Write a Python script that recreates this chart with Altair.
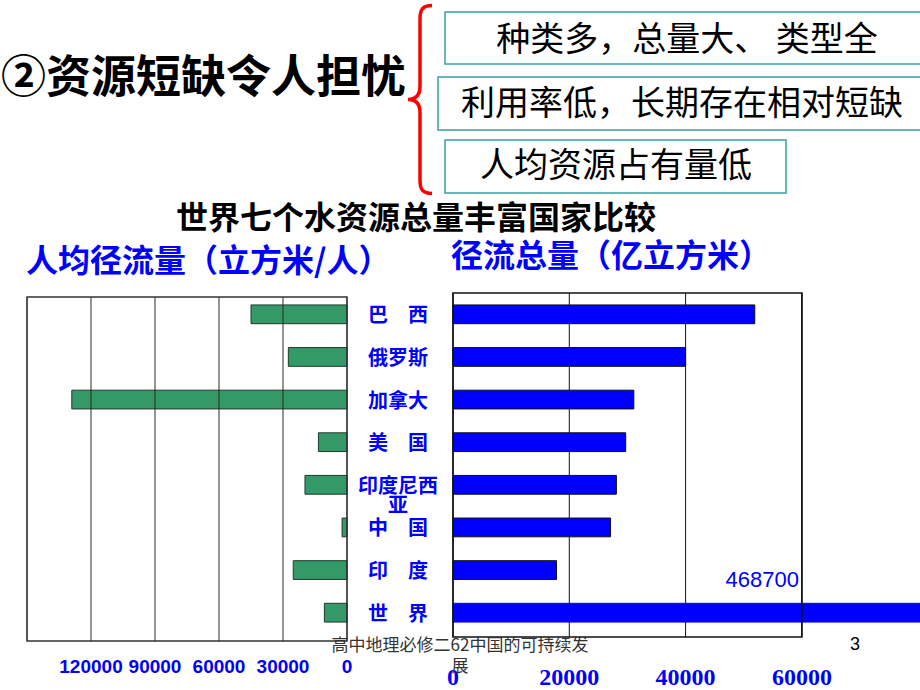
import altair as alt
import pandas as pd

# ---------------- data ----------------
countries = ["巴西", "俄罗斯", "加拿大", "美国", "印度尼西亚", "中国", "印度", "世界"]
country_labels = ["巴\u3000西", "俄罗斯", "加拿大", "美\u3000国", "印度尼西\n亚",
                  "中\u3000国", "印\u3000度", "世\u3000界"]
per_capita = [45000, 27500, 129000, 13400, 19700, 2300, 25200, 10600]      # 立方米/人
total_runoff = [51900, 40000, 31100, 29700, 28100, 27100, 17800, 468700]   # 亿立方米
left_ticks = [0, 30000, 60000, 90000, 120000, 150000]
left_tick_values = [0, 30000, 60000, 90000, 120000]
left_tick_labels = ["0", "30000", "60000", "90000", "120000"]
right_ticks = [0, 20000, 40000, 60000]
right_tick_labels = ["0", "20000", "40000", "60000"]

heading = "②资源短缺令人担忧"
points = ["种类多，总量大、 类型全", "利用率低，长期存在相对短缺", "人均资源占有量低"]
chart_title = "世界七个水资源总量丰富国家比较"
left_subtitle = "人均径流量（立方米/人）"
right_subtitle = "径流总量（亿立方米）"
footer = "高中地理必修二62中国的可持续发\n展"
page_no = "3"

df = pd.DataFrame({"country": countries, "label": country_labels,
                   "per_capita": per_capita, "total": total_runoff})

CJK = "Noto Sans CJK SC"
BLUE = "#0000FF"

y_enc = alt.Y("country:N", sort=countries,
              scale=alt.Scale(domain=countries, range=[293, 634],
                              paddingInner=0.56, paddingOuter=0.28),
              axis=None)

def one(s):
    return alt.Chart(pd.DataFrame({"t": [s]}))

def txt(s, x, y, size, color="black", weight="normal", font=CJK,
        align="center", baseline="middle", **kw):
    return one(s).mark_text(fontSize=size, color=color, fontWeight=weight, font=font,
                            align=align, baseline=baseline, **kw).encode(
        text="t:N", x=alt.value(x), y=alt.value(y))

def box(x1, x2, y1, y2):
    return one("").mark_rect(fill="white", stroke="#3A9FA8", strokeWidth=1.5).encode(
        x=alt.value(x1), x2=alt.value(x2), y=alt.value(y1), y2=alt.value(y2))

# ---------------- header ----------------
brace_path = ("M0.128,-1 C0.03,-1 0,-0.96 0,-0.86 L0,-0.14 C0,-0.04 -0.05,0 -0.128,0 "
              "C-0.05,0 0,0.04 0,0.14 L0,0.86 C0,0.96 0.03,1 0.128,1")
brace = one("").mark_point(shape=brace_path, size=35344, filled=False, stroke="#FF0000",
                           strokeWidth=3.5, opacity=1).encode(
    x=alt.value(420), y=alt.value(99.5))

header = [
    txt(heading, 1, 79, 45, weight="bold", align="left"),
    brace,
    box(445, 930, 12, 64), txt(points[0], 687, 41, 34),
    box(438, 930, 77, 130), txt(points[1], 682, 105, 34),
    box(445, 786, 140, 193), txt(points[2], 616, 167, 34),
    txt(chart_title, 416, 219, 32, weight="bold"),
    txt(left_subtitle, 26, 262, 32, color=BLUE, weight="bold", align="left"),
    txt(right_subtitle, 451, 257, 32, color=BLUE, weight="bold", align="left"),
]

# ---------------- left chart: per capita ----------------
lx = alt.Scale(domain=[0, 150000], range=[347, 27], nice=False)

bars_l = alt.Chart(df).mark_bar(color="#339966", stroke="#1E3B2C", strokeWidth=1).encode(
    x=alt.X("per_capita:Q", scale=lx, axis=None), y=y_enc)

grid_l = alt.Chart(pd.DataFrame({"v": left_ticks})).mark_rule(
    color="#2A2A2A", strokeWidth=1).encode(
    x=alt.X("v:Q", scale=lx, axis=None), y=alt.value(297), y2=alt.value(641))

frame_l = alt.Chart(pd.DataFrame({"a": [150000], "b": [0]})).mark_rect(
    fill="transparent", stroke="#333333", strokeWidth=1.3).encode(
    x=alt.X("a:Q", scale=lx, axis=None), x2="b:Q", y=alt.value(297), y2=alt.value(641))

ticks_l = alt.Chart(pd.DataFrame({"v": left_tick_values, "t": left_tick_labels})).mark_text(
    font="Liberation Sans", fontSize=19, fontWeight="bold", color=BLUE, baseline="middle").encode(
    x=alt.X("v:Q", scale=lx, axis=None), y=alt.value(667), text="t:N")

left = alt.layer(bars_l, grid_l, frame_l, ticks_l)

# ---------------- right chart: total runoff ----------------
rx = alt.Scale(domain=[0, 81000], range=[453, 924], nice=False, clamp=True)

grid_r = alt.Chart(pd.DataFrame({"v": right_ticks})).mark_rule(
    color="#111111", strokeWidth=1).encode(
    x=alt.X("v:Q", scale=rx, axis=None), y=alt.value(293), y2=alt.value(637))

bars_r = alt.Chart(df).mark_bar(color=BLUE, strokeWidth=1).encode(
    x=alt.X("total:Q", scale=rx, axis=None), y=y_enc,
    stroke=alt.condition(alt.datum.country == "世界", alt.value(BLUE), alt.value("#111111")))

frame_r = alt.Chart(pd.DataFrame({"a": [0], "b": [60000]})).mark_rect(
    fill="transparent", stroke="#111111", strokeWidth=1.6).encode(
    x=alt.X("a:Q", scale=rx, axis=None), x2="b:Q", y=alt.value(293), y2=alt.value(637))

ticks_r = alt.Chart(pd.DataFrame({"v": right_ticks, "t": right_tick_labels})).mark_text(
    font="Liberation Serif", fontSize=24, fontWeight="bold", color=BLUE, baseline="middle").encode(
    x=alt.X("v:Q", scale=rx, axis=None), y=alt.value(678), text="t:N")

world_label = alt.Chart(df).transform_filter(alt.datum.country == "世界").mark_text(
    font="Liberation Sans", fontSize=22, color=BLUE, align="right", baseline="middle",
    dy=-33).encode(
    x=alt.value(799), y=y_enc, text=alt.Text("total:Q", format="d"))

right = alt.layer(grid_r, bars_r, frame_r, ticks_r)

# ---------------- category labels ----------------
cat_labels = alt.Chart(df).mark_text(
    font=CJK, fontSize=20, fontWeight="bold", color=BLUE, align="center",
    baseline="top", dy=-8, lineBreak="\n", lineHeight=19).encode(
    x=alt.value(398), y=y_enc, text="label:N")

# ---------------- footer ----------------
foot = [
    txt(footer, 460, 638, 17, color="#333333", baseline="top", lineBreak="\n", lineHeight=21),
    txt(page_no, 855, 645, 18, font="Liberation Sans"),
]

chart = alt.layer(*header, left, right, world_label, cat_labels, *foot).resolve_scale(
    x="independent"
).properties(
    width=920, height=690, padding=0,
    autosize=alt.AutoSizeParams(type="none"),
    background="white",
).configure_view(stroke=None)

chart.save("out.html", embed_options={"renderer": "svg", "actions": False})
